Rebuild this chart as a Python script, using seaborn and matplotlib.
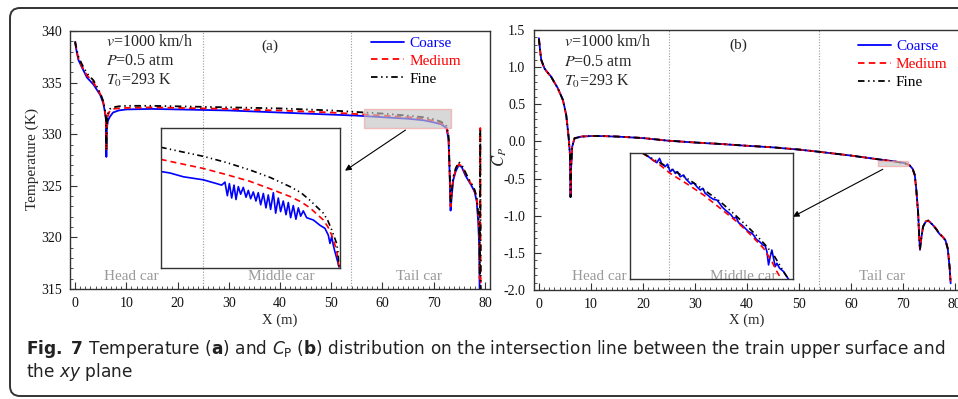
import numpy as np
import matplotlib
matplotlib.use("Agg")
import matplotlib.pyplot as plt
import seaborn as sns
from matplotlib.patches import Rectangle, FancyBboxPatch
from matplotlib.transforms import IdentityTransform
from matplotlib.ticker import MultipleLocator, FormatStrFormatter

# ---- panel (a): temperature along the line (m, K) ----
x_a = [0, 0.3, 0.65, 1.3, 2.3, 3.6, 4.9, 5.5, 5.8, 6.0,
       6.1, 6.2, 6.4, 6.8, 7.4, 8.5, 10, 15, 20, 25,
       30, 35, 40, 45, 50, 55, 60, 65, 68, 70,
       71.5, 72.5, 72.9, 73.1, 73.3, 73.5, 73.8, 74.3, 74.9, 75.5,
       76.2, 76.8, 77.4, 78.0, 78.4, 78.7, 78.9, 79.0, 79.1, 79.2]
coarse_a = [338.9, 338.0, 337.2, 336.5, 335.5, 334.8, 333.8, 333.0, 332.2, 331.5,
            327.8, 330.6, 331.3, 331.7, 332.1, 332.3, 332.4, 332.45, 332.4, 332.35,
            332.3, 332.2, 332.1, 332.0, 331.9, 331.8, 331.65, 331.5, 331.35, 331.15,
            330.95, 330.6, 329.5, 326.5, 322.6, 323.8, 325.5, 326.4, 327.0, 326.8,
            326.0, 325.5, 325.0, 324.4, 323.5, 321.5, 319.0, 313.0, 313.0, 313.0]
medium_a = [338.9, 338.1, 337.3, 336.6, 335.7, 335.0, 333.9, 333.1, 332.3, 331.6,
            328.3, 330.8, 331.8, 332.3, 332.45, 332.5, 332.55, 332.6, 332.55, 332.5,
            332.45, 332.35, 332.3, 332.2, 332.1, 331.95, 331.8, 331.65, 331.5, 331.3,
            331.05, 330.7, 329.8, 326.8, 323.0, 324.2, 325.7, 326.5, 327.1, 326.9,
            326.2, 325.6, 325.1, 324.5, 323.8, 322.0, 320.5, 316.0, 330.6, 313.0]
fine_a = [339.0, 338.2, 337.5, 336.8, 335.9, 335.2, 334.0, 333.2, 332.4, 331.7,
          328.5, 331.0, 332.0, 332.45, 332.6, 332.7, 332.75, 332.75, 332.7, 332.65,
          332.6, 332.55, 332.5, 332.4, 332.3, 332.15, 332.0, 331.8, 331.65, 331.45,
          331.2, 330.8, 330.0, 327.0, 323.3, 324.4, 325.8, 326.7, 327.3, 327.0,
          326.3, 325.7, 325.2, 324.6, 323.9, 322.3, 320.8, 316.5, 330.4, 313.0]

# inset (a): zoom of the tail-car section
ins_a_x_coarse = [56.40, 57.28, 58.55, 60.44, 61.70, 62.18, 62.49, 62.72, 62.91, 63.13,
                  63.35, 63.54, 63.76, 63.98, 64.23, 64.49, 64.71, 64.93, 65.18, 65.43,
                  65.65, 65.88, 66.13, 66.38, 66.60, 66.82, 67.08, 67.30, 67.55, 67.77,
                  68.02, 68.28, 68.50, 68.72, 68.97, 69.22, 69.45, 69.67, 69.92, 70.24,
                  70.87, 71.50, 71.97, 72.29, 72.45, 72.61, 72.76, 72.92, 73.14, 73.30]
ins_a_coarse = [331.90, 331.88, 331.83, 331.79, 331.74, 331.72, 331.76, 331.58, 331.74, 331.55,
                331.72, 331.53, 331.70, 331.60, 331.69, 331.56, 331.65, 331.54, 331.63, 331.51,
                331.62, 331.46, 331.61, 331.42, 331.59, 331.40, 331.62, 331.35, 331.55, 331.37,
                331.51, 331.33, 331.49, 331.29, 331.45, 331.27, 331.42, 331.31, 331.38, 331.29,
                331.26, 331.19, 331.15, 331.06, 330.95, 331.04, 330.93, 330.84, 330.73, 330.64]
ins_a_x_medium = [56.40, 58.40, 60.44, 62.60, 64.86, 66.80, 68.66, 69.70, 70.55, 71.82,
                  72.25, 72.61, 72.85, 73.08, 73.30]
ins_a_medium = [332.06, 332.00, 331.94, 331.86, 331.77, 331.67, 331.57, 331.50, 331.42, 331.26,
                331.17, 331.06, 330.96, 330.86, 330.64]
ins_a_x_fine = [56.40, 58.40, 60.44, 62.60, 64.86, 66.80, 68.66, 69.70, 70.55, 71.82,
                72.25, 72.61, 72.85, 73.08, 73.20, 73.30]
ins_a_fine = [332.22, 332.16, 332.10, 332.02, 331.92, 331.82, 331.70, 331.62, 331.52, 331.35,
              331.25, 331.13, 331.04, 330.95, 330.85, 330.64]

# ---- panel (b): pressure coefficient ----
x_b = [0, 0.2, 0.45, 1.09, 2.37, 3.65, 4.62, 5.26, 5.71, 5.96,
       6.09, 6.2, 6.41, 6.86, 8.14, 10.06, 12, 15, 20, 24.8,
       30, 35, 39.6, 45, 50, 53.65, 60, 65.2, 68, 70.3,
       71.3, 71.9, 72.3, 72.6, 72.95, 73.15, 73.3, 73.6, 73.9, 74.4,
       74.9, 75.7, 76.4, 77.0, 77.7, 78.2, 78.65, 79.0, 79.2]
coarse_b = [1.39, 1.25, 1.10, 0.98, 0.87, 0.715, 0.56, 0.356, 0.064, -0.16,
            -0.745, -0.35, -0.07, 0.042, 0.064, 0.073, 0.072, 0.065, 0.045, 0.01,
            -0.015, -0.035, -0.057, -0.08, -0.11, -0.138, -0.19, -0.24, -0.265, -0.29,
            -0.32, -0.37, -0.45, -0.65, -0.96, -1.28, -1.46, -1.28, -1.15, -1.08,
            -1.067, -1.12, -1.18, -1.24, -1.29, -1.33, -1.45, -1.70, -1.91]
medium_b = [1.38, 1.24, 1.09, 0.975, 0.865, 0.71, 0.555, 0.35, 0.06, -0.17,
            -0.73, -0.33, -0.065, 0.045, 0.066, 0.074, 0.073, 0.066, 0.046, 0.011,
            -0.014, -0.034, -0.056, -0.079, -0.109, -0.137, -0.19, -0.24, -0.266, -0.292,
            -0.322, -0.372, -0.455, -0.66, -0.98, -1.3, -1.45, -1.27, -1.14, -1.075,
            -1.065, -1.115, -1.175, -1.235, -1.285, -1.325, -1.44, -1.68, -1.9]
fine_b = [1.38, 1.25, 1.10, 0.98, 0.868, 0.713, 0.558, 0.352, 0.062, -0.165,
          -0.75, -0.34, -0.068, 0.043, 0.065, 0.074, 0.073, 0.066, 0.046, 0.011,
          -0.014, -0.034, -0.056, -0.079, -0.109, -0.137, -0.19, -0.24, -0.265, -0.291,
          -0.321, -0.371, -0.452, -0.655, -0.97, -1.29, -1.455, -1.275, -1.145, -1.078,
          -1.066, -1.118, -1.178, -1.238, -1.288, -1.33, -1.445, -1.69, -1.9]

# inset (b)
ins_b_x_coarse = [65.675, 65.876, 66.054, 66.172, 66.267, 66.350, 66.468, 66.551, 66.646, 66.741,
                  66.824, 66.906, 67.001, 67.120, 67.214, 67.297, 67.380, 67.475, 67.593, 67.712,
                  67.806, 67.889, 67.972, 68.067, 68.185, 68.304, 68.398, 68.481, 68.600, 68.718,
                  68.813, 68.896, 68.990, 69.073, 69.192, 69.310, 69.428, 69.547, 69.606, 69.701,
                  69.819, 69.938, 70.020, 70.080, 70.139, 70.198, 70.257, 70.316, 70.376, 70.435,
                  70.530, 70.672, 70.790, 70.849]
ins_b_coarse = [-0.2554, -0.2575, -0.2601, -0.2613, -0.2586, -0.2622, -0.2638, -0.2622, -0.2670, -0.2655,
                -0.2681, -0.2670, -0.2702, -0.2691, -0.2718, -0.2733, -0.2748, -0.2739, -0.2765, -0.2786,
                -0.2775, -0.2807, -0.2817, -0.2832, -0.2845, -0.2849, -0.2870, -0.2891, -0.2912, -0.2929,
                -0.2944, -0.2965, -0.2958, -0.2992, -0.3007, -0.3028, -0.3049, -0.3059, -0.3070, -0.3097,
                -0.3112, -0.3133, -0.3139, -0.3175, -0.3259, -0.3207, -0.3165, -0.3217, -0.3270, -0.3249,
                -0.3280, -0.3301, -0.3333, -0.3350]
ins_b_x_medium = [65.675, 66.20, 66.646, 67.25, 67.830, 68.40, 69.014, 69.50, 69.961, 70.257, 70.435, 70.553]
ins_b_medium = [-0.2554, -0.2615, -0.2681, -0.2748, -0.2817, -0.2898, -0.2986, -0.3068, -0.3154, -0.3238, -0.3301, -0.3337]
ins_b_x_fine = [65.675, 66.45, 67.238, 67.85, 68.422, 68.9, 69.369, 69.75, 70.080, 70.35, 70.553, 70.70, 70.849]
ins_b_fine = [-0.2554, -0.2630, -0.2712, -0.2785, -0.2859, -0.2935, -0.3013, -0.3080, -0.3144, -0.3205, -0.3266, -0.3310, -0.3350]

labels = ["Coarse", "Medium", "Fine"]
colors = ["#0000ff", "#ff0000", "#000000"]
styles = ["-", (0, (3.6, 2.4)), (0, (3.6, 2.0, 0.8, 2.0, 0.8, 2.0))]
car_names = ["Head car", "Middle car", "Tail car"]
car_bounds = [25, 53.8]
cond_lines = [r"$v$=1000 km/h", r"$P$=0.5 atm", r"$T_0$=293 K"]

sns.set_style("ticks")
plt.rcParams["font.family"] = ["Liberation Serif", "DejaVu Serif"]
plt.rcParams["mathtext.fontset"] = "stix"
plt.rcParams["axes.unicode_minus"] = False

W, H = 958, 399
fig = plt.figure(figsize=(W / 100, H / 100), dpi=100)
fig.patch.set_facecolor("white")


def px_axes(left, top, right, bottom):
    return fig.add_axes([left / W, 1 - bottom / H, (right - left) / W, (bottom - top) / H])


def draw_lines(ax, xs, ys, lw=1.3, label=True):
    for x, y, lab, c, ls in zip(xs, ys, labels, colors, styles):
        sns.lineplot(x=x, y=y, ax=ax, color=c, linestyle=ls, linewidth=lw,
                     sort=False, estimator=None, label=lab if label else None)


def style_axes(ax, ylim, ymaj, ymin):
    ax.set_xlim(-1, 81)
    ax.set_ylim(*ylim)
    ax.xaxis.set_major_locator(MultipleLocator(10))
    ax.xaxis.set_minor_locator(MultipleLocator(1))
    ax.yaxis.set_major_locator(MultipleLocator(ymaj))
    ax.yaxis.set_minor_locator(MultipleLocator(ymin))
    ax.tick_params(which="both", direction="in", top=False, right=False,
                   labelsize=10, color="#333333", labelcolor="#111111")
    ax.tick_params(which="major", length=5, width=0.8, pad=6)
    ax.tick_params(which="minor", length=2.5, width=0.6)
    for s in ax.spines.values():
        s.set_color("#333333")
        s.set_linewidth(1.0)
    for xb in car_bounds:
        ax.axvline(xb, color="#999999", linestyle=(0, (1, 1.5)), linewidth=0.8, zorder=0)


def decorate(ax, tag, txt_x, txt_y, tag_pos, car_x, car_y, leg_anchor):
    for t, yy in zip(cond_lines, txt_y):
        ax.text(txt_x, yy, t, transform=ax.transAxes, fontsize=11.5, ha="left", va="center")
    ax.text(tag_pos[0], tag_pos[1], tag, transform=ax.transAxes, fontsize=11, ha="center", va="center")
    for name, cx in zip(car_names, car_x):
        ax.text(cx, car_y, name, transform=ax.transAxes, fontsize=11, color="#999999",
                ha="center", va="center")
    ax.legend(loc="upper left", bbox_to_anchor=leg_anchor, frameon=False, fontsize=11,
              handlelength=2.15, handletextpad=0.35, labelspacing=0.28,
              borderpad=0, borderaxespad=0, labelcolor="linecolor")
    ax.set_xlabel("X (m)", fontsize=10.5)


def inset(ax, pos, xs, ys, xlim, ylim):
    ins = px_axes(*pos)
    ins.patch.set_alpha(0)
    draw_lines(ins, xs, ys, lw=1.2, label=False)
    ins.set_xlim(*xlim)
    ins.set_ylim(*ylim)
    ins.set_xticks([])
    ins.set_yticks([])
    ins.set_xlabel("")
    ins.set_ylabel("")
    for s in ins.spines.values():
        s.set_color("#333333")
        s.set_linewidth(1.0)
    if ins.get_legend():
        ins.get_legend().remove()
    return ins


# ---------- panel (a) ----------
ax_a = px_axes(70, 31, 490, 289)
draw_lines(ax_a, [x_a] * 3, [coarse_a, medium_a, fine_a])
style_axes(ax_a, (315, 340), 5, 1)
decorate(ax_a, "(a)", 0.086, [0.957, 0.884, 0.810], (0.476, 0.939),
         [0.147, 0.502, 0.831], 0.047, (0.717, 0.98))
ax_a.set_ylabel("Temperature (K)", fontsize=11)
ax_a.yaxis.label.set_va("center")
ax_a.yaxis.set_label_coords(-0.091, 0.504)
ax_a.xaxis.set_label_coords(0.5, -0.095)
ax_a.add_patch(Rectangle((56.4, 330.63), 17.0, 1.84, facecolor="#c4c4c4", alpha=0.65,
                         edgecolor="#f2a0a0", linewidth=1.0, zorder=5))
ins_a = inset(ax_a, (160.7, 128.3, 340.0, 267.7),
              [ins_a_x_coarse, ins_a_x_medium, ins_a_x_fine],
              [ins_a_coarse, ins_a_medium, ins_a_fine], (56.4, 73.4), (330.63, 332.47))
ax_a.annotate("", xy=(1.028, 0.696), xycoords=ins_a.transAxes, xytext=(64.5, 330.4),
              textcoords="data",
              arrowprops=dict(arrowstyle="-|>", color="k", lw=0.8, mutation_scale=9,
                              shrinkA=0, shrinkB=0))

# ---------- panel (b) ----------
ax_b = px_axes(533.7, 30, 960, 290)
draw_lines(ax_b, [x_b] * 3, [coarse_b, medium_b, fine_b])
style_axes(ax_b, (-2.0, 1.5), 0.5, 0.1)
ax_b.yaxis.set_major_formatter(FormatStrFormatter("%.1f"))
decorate(ax_b, "(b)", 0.071, [0.953, 0.878, 0.801], (0.479, 0.942),
         [0.155, 0.491, 0.817], 0.050, (0.760, 0.963))
ax_b.set_ylabel(r"$C_P$", fontsize=12)
ax_b.yaxis.label.set_va("center")
ax_b.yaxis.set_label_coords(-0.080, 0.513)
ax_b.xaxis.set_label_coords(0.5, -0.092)
ax_b.add_patch(Rectangle((65.2, -0.33), 5.8, 0.07, facecolor="#c4c4c4", alpha=0.65,
                         edgecolor="#f2a0a0", linewidth=1.0, zorder=5))
ins_b = inset(ax_b, (629.5, 152.7, 792.8, 279.3),
              [ins_b_x_coarse, ins_b_x_medium, ins_b_x_fine],
              [ins_b_coarse, ins_b_medium, ins_b_fine], (65.2, 71.0), (-0.335, -0.255))
ax_b.annotate("", xy=(1.0, 0.494), xycoords=ins_b.transAxes, xytext=(66.15, -0.375),
              textcoords="data",
              arrowprops=dict(arrowstyle="-|>", color="k", lw=0.8, mutation_scale=9,
                              shrinkA=0, shrinkB=0))

# ---------- outer frame and caption ----------
frame = FancyBboxPatch((10, H - 396), 980, 388, boxstyle="round,pad=0,rounding_size=10",
                       transform=IdentityTransform(), facecolor="none", edgecolor="#333333",
                       linewidth=1.4, zorder=-1)
fig.patches.append(frame)

cap1 = (r"$\mathbf{Fig.\ 7}$ Temperature ($\mathbf{a}$) and $C_{\mathrm{P}}$ ($\mathbf{b}$) "
        "distribution on the intersection line between the train upper surface and")
cap2 = r"the $\mathit{xy}$ plane"
cap_texts = []
for txt, yy in [(cap1, 354), (cap2, 377)]:
    cap_texts.append(fig.text(26 / W, 1 - yy / H, txt, ha="left", va="baseline", fontsize=10,
                              family=["DejaVu Sans"], color="#222222",
                              math_fontfamily="dejavusans"))

# size the caption so its first line spans the same width as in the figure
fig.canvas.draw()
w1 = cap_texts[0].get_window_extent(fig.canvas.get_renderer()).width
for t in cap_texts:
    t.set_fontsize(10 * 919 / w1)

fig.savefig("out.png", dpi=100)
